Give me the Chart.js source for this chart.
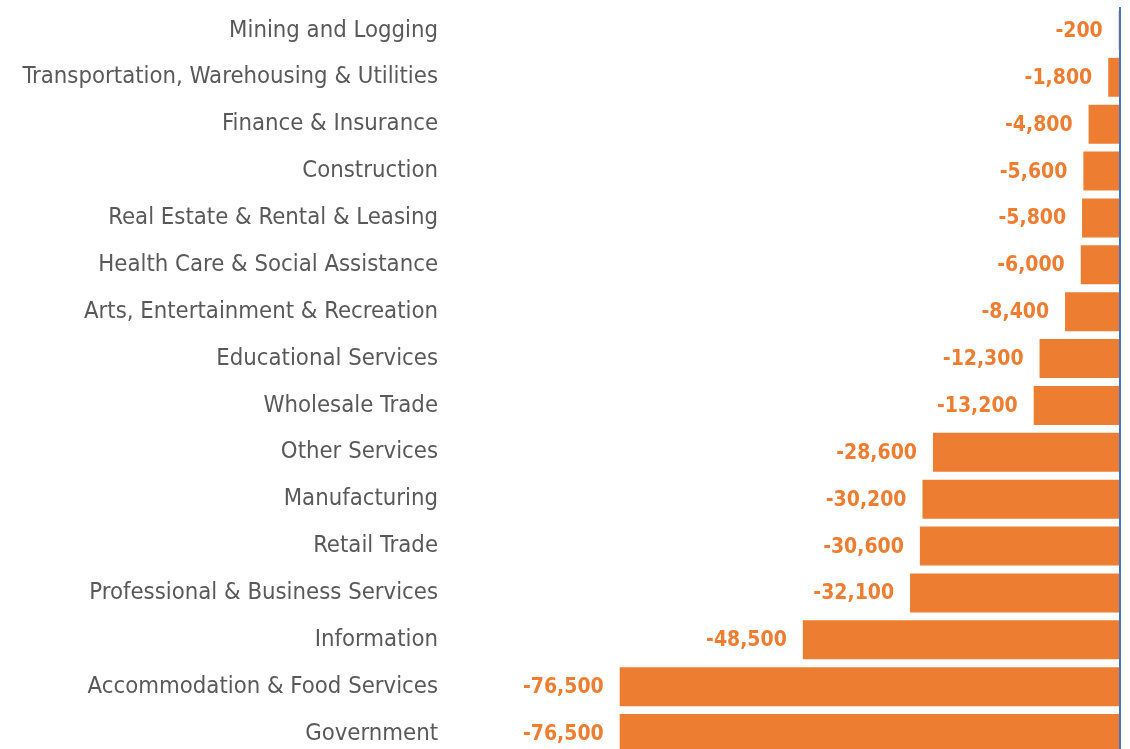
<!DOCTYPE html>
<html>
<head>
<meta charset="utf-8">
<script src="https://cdn.jsdelivr.net/npm/chart.js@4/dist/chart.umd.min.js"></script>
<style>
  html, body { margin: 0; padding: 0; background: #fff; overflow: hidden; }
  #wrap { position: relative; width: 1130px; height: 757px; }
</style>
</head>
<body>
<div id="wrap"><canvas id="myChart"></canvas></div>
<script>
const industries = [
    'Mining and Logging',
    'Transportation, Warehousing & Utilities',
    'Finance & Insurance',
    'Construction',
    'Real Estate & Rental & Leasing',
    'Health Care & Social Assistance',
    'Arts, Entertainment & Recreation',
    'Educational Services',
    'Wholesale Trade',
    'Other Services',
    'Manufacturing',
    'Retail Trade',
    'Professional & Business Services',
    'Information',
    'Accommodation & Food Services',
    'Government'
];
const jobChanges = [-200, -1800, -4800, -5600, -5800, -6000, -8400, -12300, -13200,
    -28600, -30200, -30600, -32100, -48500, -76500, -76500];

const orange = '#ED7D31';
const labelFont = '"Liberation Sans Narrow", "Arial Narrow", "DejaVu Sans Condensed", sans-serif';

// draws the value to the left of each bar
const valueLabels = {
    id: 'valueLabels',
    afterDatasetsDraw(chart) {
        const ctx = chart.ctx;
        const meta = chart.getDatasetMeta(0);
        ctx.save();
        ctx.font = 'bold 21px ' + labelFont;
        ctx.fillStyle = orange;
        ctx.textAlign = 'right';
        ctx.textBaseline = 'middle';
        meta.data.forEach((bar, i) => {
            const v = jobChanges[i];
            ctx.fillText('-' + Math.abs(v).toLocaleString('en-US'), bar.x - 16, bar.y + 1);
        });
        ctx.restore();
    }
};

const ctx = document.getElementById('myChart').getContext('2d');
new Chart(ctx, {
    type: 'bar',
    data: {
        labels: industries,
        datasets: [{
            data: jobChanges,
            backgroundColor: orange,
            borderWidth: 0,
            barPercentage: 0.83,
            categoryPercentage: 1
        }]
    },
    options: {
        indexAxis: 'y',
        responsive: true,
        maintainAspectRatio: false,
        animation: false,
        layout: { padding: { top: 7, right: 10, bottom: 0, left: 0 } },
        plugins: {
            legend: { display: false },
            tooltip: { enabled: false }
        },
        scales: {
            x: {
                min: -100000,
                max: 0,
                ticks: { display: false, stepSize: 100000 },
                border: { display: false },
                grid: {
                    drawTicks: false,
                    lineWidth: 2,
                    color: c => c.tick && c.tick.value === 0 ? '#4472C4' : 'rgba(0,0,0,0)'
                },
                afterFit: scale => { scale.height = 0; }
            },
            y: {
                ticks: {
                    color: '#595959',
                    padding: 28,
                    font: { family: labelFont, size: 23.7 }
                },
                border: { display: false },
                grid: { display: false, drawTicks: false },
                afterFit: scale => {
                    scale.width = 466;
                    scale.paddingTop = 0;
                    scale.paddingBottom = 0;
                }
            }
        }
    },
    plugins: [valueLabels]
});
</script>
</body>
</html>
